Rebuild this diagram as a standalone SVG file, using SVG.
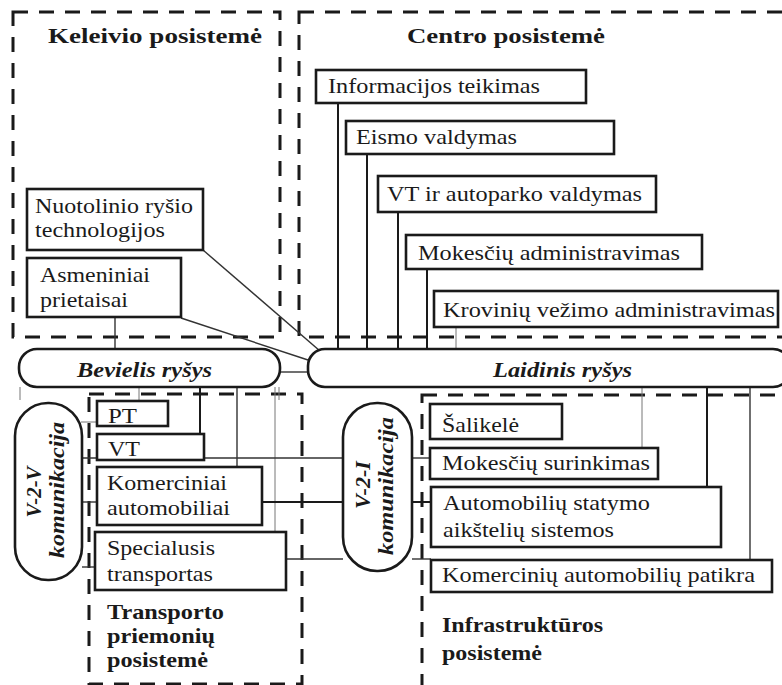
<svg xmlns="http://www.w3.org/2000/svg" width="782" height="685" viewBox="0 0 782 685">
  <style>
    .zone { fill: none; stroke: #1a1a1a; stroke-width: 3; stroke-dasharray: 15 11; }
    .box { fill: #fff; stroke: #1a1a1a; stroke-width: 2.6; }
    .bus { fill: #fff; stroke: #1a1a1a; stroke-width: 2.6; }
    .t { font-family: "Liberation Serif", "Times New Roman", serif; font-size: 22px; fill: #1a1a1a; }
    .h { font-family: "Liberation Serif", "Times New Roman", serif; font-size: 22px; font-weight: bold; fill: #1a1a1a; }
    .bi { font-family: "Liberation Serif", "Times New Roman", serif; font-size: 22px; font-weight: bold; font-style: italic; fill: #1a1a1a; }
    .c2 { stroke: #1a1a1a; stroke-width: 2; fill: none; }
    .c1 { stroke: #333; stroke-width: 1.4; fill: none; }
    .c0 { stroke: #777; stroke-width: 1; fill: none; }
  </style>

  <rect width="782" height="685" fill="#fff"/>

  <!-- subsystem zones -->
  <g id="zone-keleivio">
    <rect class="zone" x="13" y="12" width="267" height="325"/>
    <text class="h" x="48" y="43" textLength="214" lengthAdjust="spacingAndGlyphs">Keleivio posistemė</text>
  </g>
  <g id="zone-centro">
    <rect class="zone" x="299" y="12" width="500" height="325"/>
    <text class="h" x="407" y="43" textLength="198" lengthAdjust="spacingAndGlyphs">Centro posistemė</text>
  </g>
  <g id="zone-transporto">
    <rect class="zone" x="89" y="394" width="213" height="290"/>
    <text class="h" x="107" y="619" textLength="117" lengthAdjust="spacingAndGlyphs">Transporto</text>
    <text class="h" x="107" y="643" textLength="108" lengthAdjust="spacingAndGlyphs">priemonių</text>
    <text class="h" x="107" y="667" textLength="101" lengthAdjust="spacingAndGlyphs">posistemė</text>
  </g>
  <g id="zone-infrastrukturos">
    <rect class="zone" x="422" y="395" width="380" height="300"/>
    <text class="h" x="442" y="632" textLength="161" lengthAdjust="spacingAndGlyphs">Infrastruktūros</text>
    <text class="h" x="442" y="660" textLength="100" lengthAdjust="spacingAndGlyphs">posistemė</text>
  </g>

  <!-- connectors -->
  <g id="connectors">
    <!-- centre services down to the wired bus -->
    <line class="c2" x1="338" y1="103" x2="338" y2="349"/>
    <line class="c2" x1="367" y1="154" x2="367" y2="349"/>
    <line class="c2" x1="398" y1="212" x2="398" y2="349"/>
    <line class="c2" x1="427" y1="269" x2="427" y2="349"/>
    <line class="c0" x1="456" y1="327" x2="456" y2="349"/>
    <!-- passenger devices -->
    <line class="c1" x1="203" y1="250" x2="320" y2="351"/>
    <line class="c1" x1="181" y1="318" x2="308" y2="360"/>
    <line class="c1" x1="115" y1="317" x2="115" y2="349"/>
    <!-- wireless to wired -->
    <line class="c1" x1="280" y1="372" x2="308" y2="372"/>
    <!-- wireless bus down to vehicles -->
    <line class="c0" x1="20" y1="387" x2="20" y2="400"/>
    <line class="c0" x1="139" y1="387" x2="139" y2="401"/>
    <line class="c2" x1="200" y1="387" x2="200" y2="434"/>
    <line class="c1" x1="237" y1="387" x2="237" y2="467"/>
    <line class="c0" x1="275" y1="387" x2="275" y2="532"/>
    <line class="c0" x1="279" y1="387" x2="279" y2="400"/>
    <!-- V-2-V links -->
    <line class="c0" x1="81" y1="422" x2="97" y2="422"/>
    <line class="c1" x1="82" y1="458" x2="343" y2="458"/>
    <line class="c1" x1="82" y1="502" x2="97" y2="502"/>
    <line class="c1" x1="82" y1="567" x2="95" y2="567"/>
    <!-- vehicles to V-2-I -->
    <line class="c2" x1="262" y1="502" x2="343" y2="502"/>
    <line class="c1" x1="286" y1="559" x2="343" y2="559"/>
    <!-- V-2-I to infrastructure -->
    <line class="c1" x1="412" y1="458" x2="430" y2="458"/>
    <line class="c2" x1="412" y1="502" x2="431" y2="502"/>
    <line class="c1" x1="412" y1="559" x2="431" y2="559"/>
    <!-- wired bus down to infrastructure -->
    <line class="c0" x1="642" y1="387" x2="642" y2="448"/>
    <line class="c2" x1="707" y1="387" x2="707" y2="487"/>
    <line class="c1" x1="750" y1="387" x2="750" y2="560"/>
  </g>

  <!-- communication buses -->
  <g id="bus-bevielis">
    <rect class="bus" x="19" y="349" width="261" height="38" rx="18" ry="18"/>
    <text class="bi" x="77" y="377" textLength="135" lengthAdjust="spacingAndGlyphs">Bevielis ryšys</text>
  </g>
  <g id="bus-laidinis">
    <rect class="bus" x="308" y="349" width="482" height="38" rx="17" ry="17"/>
    <text class="bi" x="493" y="377" textLength="139" lengthAdjust="spacingAndGlyphs">Laidinis ryšys</text>
  </g>
  <g id="bus-v2v">
    <rect class="bus" x="15" y="403" width="67" height="177" rx="33" ry="33"/>
    <text class="bi" transform="translate(41,492) rotate(-90)" text-anchor="middle" textLength="51" lengthAdjust="spacingAndGlyphs">V-2-V</text>
    <text class="bi" transform="translate(64,490) rotate(-90)" text-anchor="middle" textLength="136" lengthAdjust="spacingAndGlyphs">komunikacija</text>
  </g>
  <g id="bus-v2i">
    <rect class="bus" x="343" y="403" width="69" height="168" rx="34" ry="34"/>
    <text class="bi" transform="translate(370,485) rotate(-90)" text-anchor="middle" textLength="48" lengthAdjust="spacingAndGlyphs">V-2-I</text>
    <text class="bi" transform="translate(393,486) rotate(-90)" text-anchor="middle" textLength="138" lengthAdjust="spacingAndGlyphs">komunikacija</text>
  </g>

  <!-- centre subsystem nodes -->
  <g id="informacijos-teikimas">
    <rect class="box" x="316" y="70" width="270" height="33"/>
    <text class="t" x="328" y="93" textLength="212" lengthAdjust="spacingAndGlyphs">Informacijos teikimas</text>
  </g>
  <g id="eismo-valdymas">
    <rect class="box" x="346" y="121" width="268" height="33"/>
    <text class="t" x="356" y="144" textLength="161" lengthAdjust="spacingAndGlyphs">Eismo valdymas</text>
  </g>
  <g id="vt-autoparko-valdymas">
    <rect class="box" x="378" y="176" width="278" height="36"/>
    <text class="t" x="387" y="201" textLength="255" lengthAdjust="spacingAndGlyphs">VT ir autoparko valdymas</text>
  </g>
  <g id="mokesciu-administravimas">
    <rect class="box" x="406" y="235" width="296" height="34"/>
    <text class="t" x="418" y="260" textLength="262" lengthAdjust="spacingAndGlyphs">Mokesčių administravimas</text>
  </g>
  <g id="kroviniu-vezimo-administravimas">
    <rect class="box" x="434" y="291" width="344" height="36"/>
    <text class="t" x="443" y="317" textLength="332" lengthAdjust="spacingAndGlyphs">Krovinių vežimo administravimas</text>
  </g>

  <!-- passenger subsystem nodes -->
  <g id="nuotolinio-rysio-technologijos">
    <rect class="box" x="27" y="189" width="176" height="61"/>
    <text class="t" x="35" y="213" textLength="158" lengthAdjust="spacingAndGlyphs">Nuotolinio ryšio</text>
    <text class="t" x="35" y="237" textLength="130" lengthAdjust="spacingAndGlyphs">technologijos</text>
  </g>
  <g id="asmeniniai-prietaisai">
    <rect class="box" x="27" y="258" width="154" height="59"/>
    <text class="t" x="40" y="282" textLength="110" lengthAdjust="spacingAndGlyphs">Asmeniniai</text>
    <text class="t" x="40" y="307" textLength="88" lengthAdjust="spacingAndGlyphs">prietaisai</text>
  </g>

  <!-- vehicle subsystem nodes -->
  <g id="pt">
    <rect class="box" x="97" y="401" width="71" height="25"/>
    <text class="t" x="108" y="423" textLength="29" lengthAdjust="spacingAndGlyphs">PT</text>
  </g>
  <g id="vt">
    <rect class="box" x="97" y="434" width="107" height="26"/>
    <text class="t" x="108" y="456" textLength="32" lengthAdjust="spacingAndGlyphs">VT</text>
  </g>
  <g id="komerciniai-automobiliai">
    <rect class="box" x="97" y="467" width="165" height="58"/>
    <text class="t" x="107" y="490" textLength="120" lengthAdjust="spacingAndGlyphs">Komerciniai</text>
    <text class="t" x="107" y="515" textLength="123" lengthAdjust="spacingAndGlyphs">automobiliai</text>
  </g>
  <g id="specialusis-transportas">
    <rect class="box" x="95" y="532" width="191" height="58"/>
    <text class="t" x="107" y="555" textLength="108" lengthAdjust="spacingAndGlyphs">Specialusis</text>
    <text class="t" x="107" y="581" textLength="106" lengthAdjust="spacingAndGlyphs">transportas</text>
  </g>

  <!-- infrastructure subsystem nodes -->
  <g id="salikele">
    <rect class="box" x="430" y="404" width="132" height="35"/>
    <text class="t" x="442" y="432" textLength="77" lengthAdjust="spacingAndGlyphs">Šalikelė</text>
  </g>
  <g id="mokesciu-surinkimas">
    <rect class="box" x="430" y="448" width="228" height="31"/>
    <text class="t" x="442" y="470" textLength="208" lengthAdjust="spacingAndGlyphs">Mokesčių surinkimas</text>
  </g>
  <g id="automobiliu-statymo-sistemos">
    <rect class="box" x="431" y="487" width="290" height="60"/>
    <text class="t" x="443" y="510" textLength="207" lengthAdjust="spacingAndGlyphs">Automobilių statymo</text>
    <text class="t" x="443" y="537" textLength="171" lengthAdjust="spacingAndGlyphs">aikštelių sistemos</text>
  </g>
  <g id="komerciniu-automobiliu-patikra">
    <rect class="box" x="431" y="560" width="341" height="32"/>
    <text class="t" x="442" y="582" textLength="313" lengthAdjust="spacingAndGlyphs">Komercinių automobilių patikra</text>
  </g>
</svg>
